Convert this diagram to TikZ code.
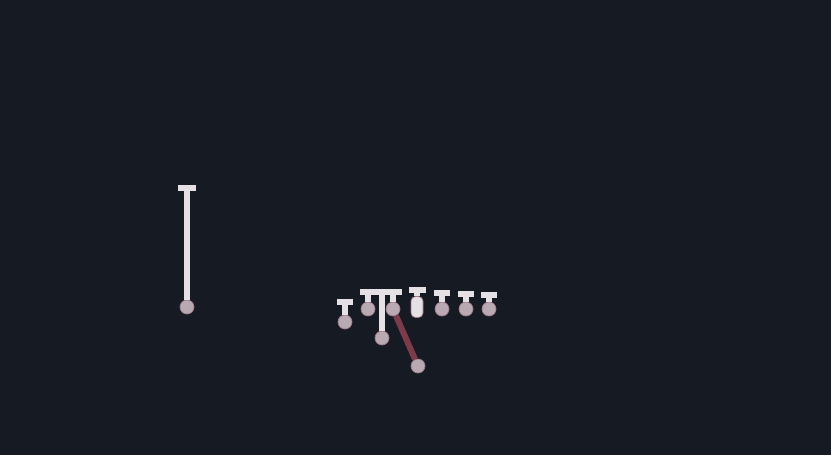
\documentclass[tikz,border=0pt]{standalone}
\usetikzlibrary{positioning}

\definecolor{bgdark}{HTML}{161A22}
\definecolor{rodwhite}{HTML}{E4E0E3}
\definecolor{rodedge}{HTML}{9C7A88}
\definecolor{ballgrey}{HTML}{B9A9B2}
\definecolor{maroon}{HTML}{7C3A4A}

\begin{document}
\begin{tikzpicture}[x=0.01cm,y=-0.01cm,
  rod/.style={draw=rodwhite,line width=0.055cm},
  topbar/.style={draw=rodwhite,line width=0.065cm},
  swing/.style={draw=maroon,line width=0.06cm},
  bob/.style={circle,fill=ballgrey,draw=rodedge,very thin,inner sep=0pt,minimum size=0.14cm},
  weight/.style={rectangle,rounded corners=0.045cm,fill=rodwhite,draw=rodedge,very thin,inner sep=0pt,minimum width=0.12cm,minimum height=0.21cm}]

  \fill[bgdark] (0,0) rectangle (831,455);
  \useasboundingbox (0,0) rectangle (831,455);

  % long pendulum on the left
  \coordinate (t0) at (187,188);
  \node[bob] (b0) at (187,307) {};
  \draw[topbar] (178,188) -- (196,188);
  \draw[rod] (t0) -- (b0);

  % small one
  \coordinate (t1) at (345,302);
  \node[bob] (b1) at (345,322) {};
  \draw[topbar] (337,302) -- (353,302);
  \draw[rod] (t1) -- (b1);

  % the bunch under one wide bar
  \draw[topbar] (360,292) -- (402,292);
  \coordinate (t2) at (368,292);
  \coordinate (t3) at (382,292);
  \coordinate (t4) at (393,292);
  \node[bob] (b2) at (368,309) {};
  \node[bob] (b3) at (382,338) {};
  \node[bob] (b5) at (418,366) {};
  \draw[rod] (t2) -- (b2);
  \draw[rod] (t3) -- (b3);
  \node[bob] (b4) at (393,309) {};
  \draw[rod] (t4) -- (b4);
  \draw[swing] (b4) -- (b5);

  % block weight
  \coordinate (t6) at (417,290);
  \node[weight] (w6) at (417,307) {};
  \draw[topbar] (409,290) -- (426,290);
  \draw[rod] (t6) -- (w6);

  % the three on the right
  \foreach \x/\yc/\n in {442/293/7,466/294/8,489/295/9} {
    \coordinate (t\n) at (\x,\yc);
    \node[bob] (b\n) at (\x,309) {};
    \draw[topbar] (\x-8,\yc) -- (\x+8,\yc);
    \draw[rod] (t\n) -- (b\n);
  }
\end{tikzpicture}
\end{document}
